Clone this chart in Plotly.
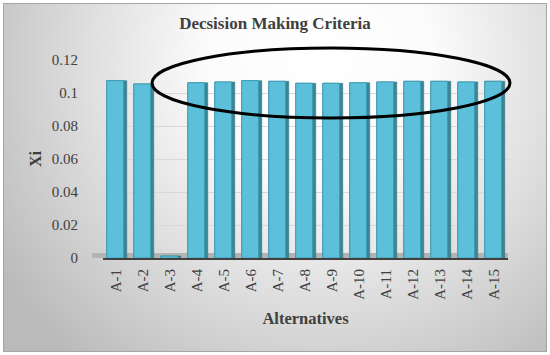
import base64
import plotly.graph_objects as go

categories = ["A-1", "A-2", "A-3", "A-4", "A-5", "A-6", "A-7", "A-8",
              "A-9", "A-10", "A-11", "A-12", "A-13", "A-14", "A-15"]
xi_values = [0.1075, 0.1055, 0.0012, 0.1062, 0.1067, 0.1075, 0.1071, 0.1059,
             0.1059, 0.1062, 0.1067, 0.1071, 0.1071, 0.1067, 0.1071]
y_ticks = [0, 0.02, 0.04, 0.06, 0.08, 0.1, 0.12]
y_ticktext = ["0", "0.02", "0.04", "0.06", "0.08", "0.1", "0.12"]

W, H = 550, 355
ML, MR, MT, MB = 103, 42, 60, 97
PW, PH = W - ML - MR, H - MT - MB

def px_x(px):
    return (px - ML) / PW

def px_y(py):
    return (H - MB - py) / PH

svg = f'''<svg xmlns="http://www.w3.org/2000/svg" width="{W}" height="{H}" viewBox="0 0 {W} {H}" preserveAspectRatio="none">
<defs><radialGradient id="g" gradientUnits="userSpaceOnUse" cx="320" cy="70" r="380" fx="320" fy="60">
<stop offset="0" stop-color="#ffffff"/><stop offset="0.3" stop-color="#fbfbfb"/>
<stop offset="0.6" stop-color="#e0e0e0"/><stop offset="1" stop-color="#bababa"/></radialGradient></defs>
<rect x="0" y="0" width="{W}" height="{H}" fill="#ffffff"/>
<rect x="3.5" y="3.5" width="{W-7}" height="{H-7}" fill="url(#g)" stroke="#a6a6a6" stroke-width="1"/>
</svg>'''
bg_src = "data:image/svg+xml;base64," + base64.b64encode(svg.encode()).decode()

fig = go.Figure()
# side faces (darker) for a 3D feel
fig.add_trace(go.Bar(
    x=categories, y=xi_values, width=0.74, offset=-0.36,
    marker=dict(color="#3b8696", line=dict(color="#2f6f7d", width=0.5)),
    hoverinfo="skip", showlegend=False))
# front faces
fig.add_trace(go.Bar(
    x=categories, y=xi_values, width=0.62, offset=-0.36,
    marker=dict(color="#5cc0da", line=dict(color="#3c9cb4", width=1)),
    showlegend=False))

fig.update_layout(
    width=W, height=H,
    margin=dict(l=ML, r=MR, t=MT, b=MB),
    barmode="overlay",
    paper_bgcolor="rgba(0,0,0,0)",
    plot_bgcolor="rgba(0,0,0,0)",
    font=dict(family="Liberation Serif, DejaVu Serif, serif", color="#404040", size=15),
    title=dict(text="<b>Decsision Making Criteria</b>", x=0.5, xanchor="center",
               y=1 - 23 / H, yanchor="middle",
               font=dict(size=17, color="#404040")),
    xaxis=dict(
        type="category", tickangle=-90, tickfont=dict(size=15),
        showgrid=False, showline=True, linecolor="#404040", linewidth=2,
        ticks="", automargin=False, ticklabelstandoff=3,
        title=dict(text="<b>Alternatives</b>", font=dict(size=16.5), standoff=14),
    ),
    yaxis=dict(
        range=[0, 0.12], tickvals=y_ticks, ticktext=y_ticktext,
        showgrid=True, gridcolor="#d9d9d9", gridwidth=1, zeroline=False,
        showline=False, ticks="", ticklabelstandoff=24, tickfont=dict(size=15),
        automargin=False,
        title=dict(text="<b>Xi</b>", font=dict(size=16), standoff=6),
    ),
    images=[dict(source=bg_src, xref="paper", yref="paper",
                 x=-ML / PW, y=1 + MT / PH, sizex=W / PW, sizey=H / PH,
                 xanchor="left", yanchor="top", sizing="stretch", layer="below")],
    shapes=[
        dict(type="rect", xref="paper", yref="paper", x0=px_x(92), x1=px_x(508),
             y0=px_y(258), y1=px_y(253), fillcolor="#b3b3b3", line=dict(width=0), layer="below"),
        dict(type="circle", xref="paper", yref="paper",
             x0=px_x(152), x1=px_x(510), y0=px_y(118), y1=px_y(48),
             line=dict(color="#000000", width=3), layer="above"),
    ],
)

fig.write_html("out.html", config={"displayModeBar": False},
               post_script="document.body.style.margin='0';document.body.style.overflow='hidden';")
